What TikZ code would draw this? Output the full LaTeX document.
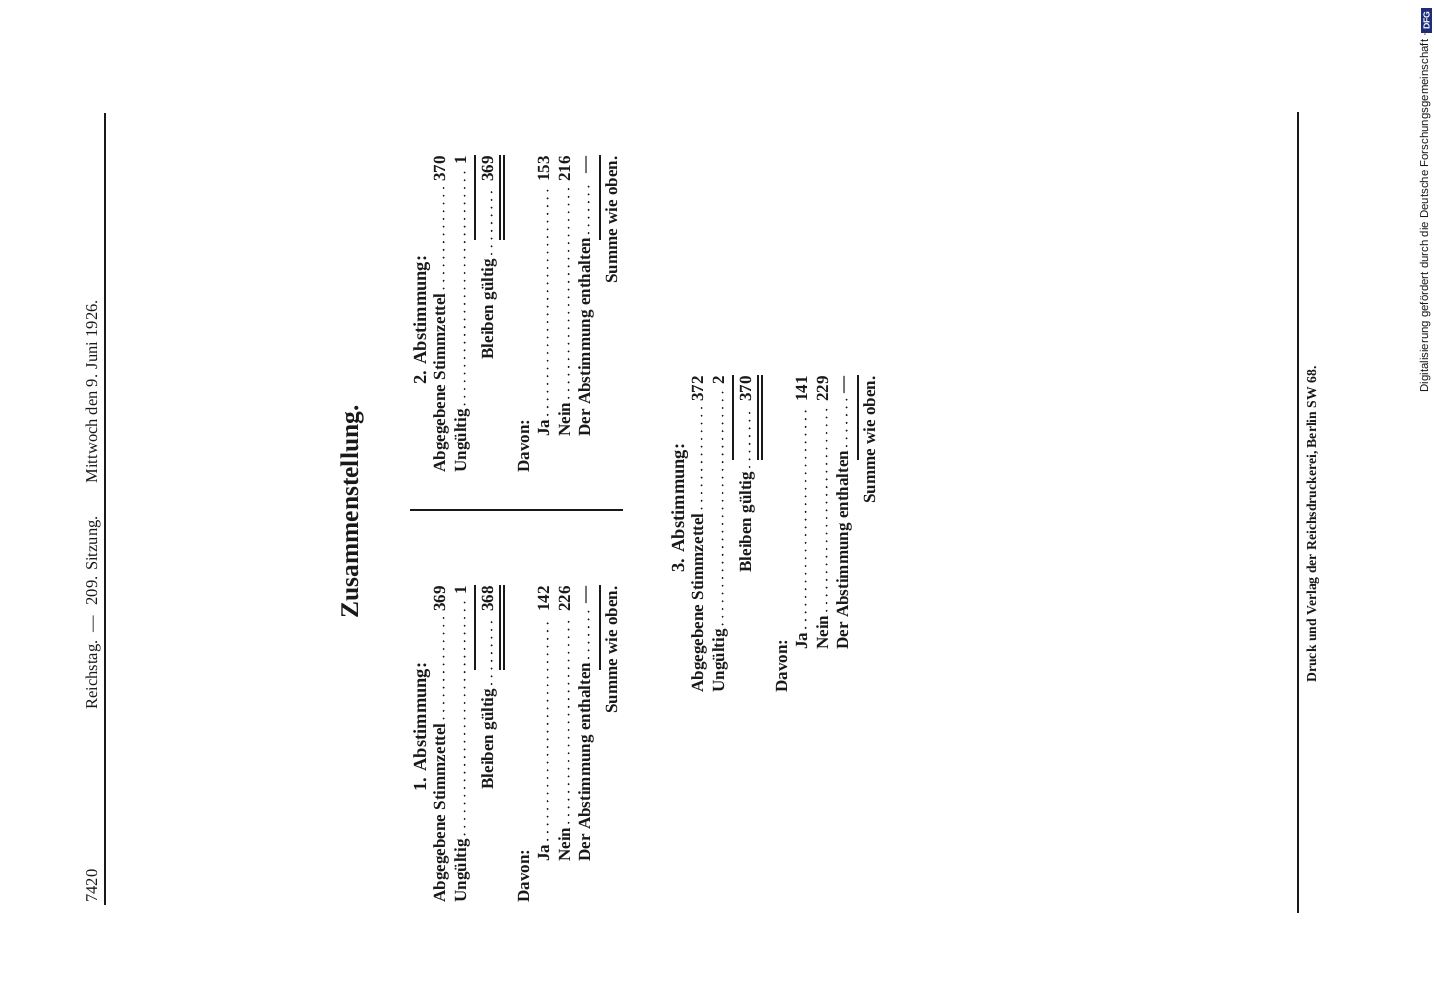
\documentclass[tikz,border=0pt]{standalone}
\usepackage{fontspec}
\setmainfont{Liberation Serif}
\setsansfont{Liberation Sans}
\definecolor{dfg_blau}{RGB}{30, 45, 120}
\definecolor{druck}{RGB}{25, 25, 25}
\usepackage{tikz}
\usetikzlibrary{positioning, calc}

\begin{document}
\begin{tikzpicture}[
        x=0.02cm, y=0.02cm,
        every node/.style={inner sep=0pt, text=druck},
        zeile/.style={anchor=base west, font=\fontsize{9.7}{12}\selectfont\bfseries},
        zahl/.style={anchor=base east, font=\fontsize{9.7}{12}\selectfont\bfseries},
        kopf/.style={anchor=base, font=\fontsize{10.5}{12}\selectfont\bfseries},
        kolumne/.style={font=\fontsize{9.4}{12}\selectfont},
        punkte/.style={druck, line width=1.2pt, line cap=round, dash pattern=on 0pt off 4.4pt, shorten <=2.5pt, shorten >=3pt},
        strich/.style={druck, line width=0.9pt},
        linie/.style={druck, line width=0.6pt},
      ]
        \useasboundingbox (0,0) rectangle (1434,1000);
        \begin{scope}[rotate=90, transform shape]
        % Kopfzeile
        \node[kolumne, anchor=base west] (seite) at (97,-97) {7420};
        \node[kolumne, anchor=base west] (reichstag) at (290,-97) {Reichstag.};
        \node[kolumne, anchor=base] (strich) at (376,-97) {—};
        \node[kolumne, anchor=base east] (sitzung) at (484,-97) {209. Sitzung.};
        \node[kolumne, anchor=base east] (datum) at (700,-97) {Mittwoch den 9. Juni 1926.};
        \draw[linie] (95,-105) -- (887,-105);

        \node[anchor=base, font=\fontsize{14.5}{16}\selectfont\bfseries] (zus) at (488,-358) {Zusammenstellung.};

        % 1. Abstimmung
        \begin{scope}[shift={(97,-445)}]
          \node[kopf] (ab1) at (176,19) {1. Abstimmung:};
          \node[zeile] (sz1) at (0,0)      {Abgegebene Stimmzettel};
          \node[zahl]  (nsz1) at (317,0)   {369};
          \node[zeile] (ug1) at (0,-21)    {Ungültig};
          \node[zahl]  (nug1) at (317,-21) {1};
          \node[zeile] (bg1) at (113,-48)  {Bleiben gültig};
          \node[zahl]  (nbg1) at (317,-48) {368};
          \node[zeile] (dv1) at (0,-84)    {Davon:};
          \node[zeile] (ja1) at (41,-104)  {Ja};
          \node[zahl]  (nja1) at (317,-104) {142};
          \node[zeile] (ne1) at (41,-125)  {Nein};
          \node[zahl]  (nne1) at (317,-125) {226};
          \node[zeile] (en1) at (41,-145)  {Der Abstimmung enthalten};
          \node[zahl]  (nen1) at (317,-145) {—};
          \node[zahl]  (su1) at (317,-172) {Summe wie oben.};

          \draw[punkte] ([yshift=0.8pt]sz1.base east) -- ([yshift=0.8pt]nsz1.base west);
          \draw[punkte] ([yshift=0.8pt]ug1.base east) -- ([yshift=0.8pt]nug1.base west);
          \draw[punkte] ([yshift=0.8pt]bg1.base east) -- ([yshift=0.8pt]nbg1.base west);
          \draw[punkte] ([yshift=0.8pt]ja1.base east) -- ([yshift=0.8pt]nja1.base west);
          \draw[punkte] ([yshift=0.8pt]ne1.base east) -- ([yshift=0.8pt]nne1.base west);
          \draw[punkte] ([yshift=0.8pt]en1.base east) -- ([yshift=0.8pt]nen1.base west);
          \draw[strich] (233,-30) -- (318,-30);
          \draw[strich] (233,-55) -- (318,-55);
          \draw[strich] (233,-59) -- (318,-59);
          \draw[strich] (233,-155) -- (318,-155);
        \end{scope}

        % 2. Abstimmung
        \begin{scope}[shift={(527,-445)}]
          \node[kopf] (ab2) at (153,19) {2. Abstimmung:};
          \node[zeile] (sz2) at (0,0)      {Abgegebene Stimmzettel};
          \node[zahl]  (nsz2) at (317,0)   {370};
          \node[zeile] (ug2) at (0,-21)    {Ungültig};
          \node[zahl]  (nug2) at (317,-21) {1};
          \node[zeile] (bg2) at (113,-48)  {Bleiben gültig};
          \node[zahl]  (nbg2) at (317,-48) {369};
          \node[zeile] (dv2) at (0,-84)    {Davon:};
          \node[zeile] (ja2) at (36,-104)  {Ja};
          \node[zahl]  (nja2) at (317,-104) {153};
          \node[zeile] (ne2) at (36,-125)  {Nein};
          \node[zahl]  (nne2) at (317,-125) {216};
          \node[zeile] (en2) at (36,-145)  {Der Abstimmung enthalten};
          \node[zahl]  (nen2) at (317,-145) {—};
          \node[zahl]  (su2) at (317,-172) {Summe wie oben.};

          \draw[punkte] ([yshift=0.8pt]sz2.base east) -- ([yshift=0.8pt]nsz2.base west);
          \draw[punkte] ([yshift=0.8pt]ug2.base east) -- ([yshift=0.8pt]nug2.base west);
          \draw[punkte] ([yshift=0.8pt]bg2.base east) -- ([yshift=0.8pt]nbg2.base west);
          \draw[punkte] ([yshift=0.8pt]ja2.base east) -- ([yshift=0.8pt]nja2.base west);
          \draw[punkte] ([yshift=0.8pt]ne2.base east) -- ([yshift=0.8pt]nne2.base west);
          \draw[punkte] ([yshift=0.8pt]en2.base east) -- ([yshift=0.8pt]nen2.base west);
          \draw[strich] (233,-30) -- (318,-30);
          \draw[strich] (233,-55) -- (318,-55);
          \draw[strich] (233,-59) -- (318,-59);
          \draw[strich] (233,-155) -- (318,-155);
        \end{scope}

        % Trennstrich
        \draw[druck, line width=1.1pt] (490,-410) -- (490,-623);

        % 3. Abstimmung
        \begin{scope}[shift={(307,-703)}]
          \node[kopf] (ab3) at (185,19) {3. Abstimmung:};
          \node[zeile] (sz3) at (0,0)      {Abgegebene Stimmzettel};
          \node[zahl]  (nsz3) at (317,0)   {372};
          \node[zeile] (ug3) at (0,-21)    {Ungültig};
          \node[zahl]  (nug3) at (317,-21) {2};
          \node[zeile] (bg3) at (120,-48)  {Bleiben gültig};
          \node[zahl]  (nbg3) at (317,-48) {370};
          \node[zeile] (dv3) at (0,-84)    {Davon:};
          \node[zeile] (ja3) at (43,-104)  {Ja};
          \node[zahl]  (nja3) at (317,-104) {141};
          \node[zeile] (ne3) at (43,-125)  {Nein};
          \node[zahl]  (nne3) at (317,-125) {229};
          \node[zeile] (en3) at (43,-145)  {Der Abstimmung enthalten};
          \node[zahl]  (nen3) at (317,-145) {—};
          \node[zahl]  (su3) at (317,-172) {Summe wie oben.};

          \draw[punkte] ([yshift=0.8pt]sz3.base east) -- ([yshift=0.8pt]nsz3.base west);
          \draw[punkte] ([yshift=0.8pt]ug3.base east) -- ([yshift=0.8pt]nug3.base west);
          \draw[punkte] ([yshift=0.8pt]bg3.base east) -- ([yshift=0.8pt]nbg3.base west);
          \draw[punkte] ([yshift=0.8pt]ja3.base east) -- ([yshift=0.8pt]nja3.base west);
          \draw[punkte] ([yshift=0.8pt]ne3.base east) -- ([yshift=0.8pt]nne3.base west);
          \draw[punkte] ([yshift=0.8pt]en3.base east) -- ([yshift=0.8pt]nen3.base west);
          \draw[strich] (233,-30) -- (318,-30);
          \draw[strich] (233,-55) -- (318,-55);
          \draw[strich] (233,-59) -- (318,-59);
          \draw[strich] (233,-155) -- (318,-155);
        \end{scope}

        % Fusszeile
        \draw[linie] (87,-1298) -- (888,-1298);
        \node[anchor=base west, font=\fontsize{7.8}{9}\selectfont\bfseries] (druckerei) at (317,-1316)
          {Druck und Verlag der Reichsdruckerei, Berlin SW 68.};
        \node[anchor=base west, font=\sffamily\fontsize{6.5}{7}\selectfont] (dfgtext) at (607,-1428)
          {Digitalisierung gefördert durch die Deutsche Forschungsgemeinschaft ·};
        \node[fill=dfg_blau, text=white, font=\sffamily\bfseries\fontsize{5}{6}\selectfont,
              minimum width=0.5cm, minimum height=0.22cm] (dfg) at (979.5,-1426.5) {DFG};
        \end{scope}
      \end{tikzpicture}
\end{document}
